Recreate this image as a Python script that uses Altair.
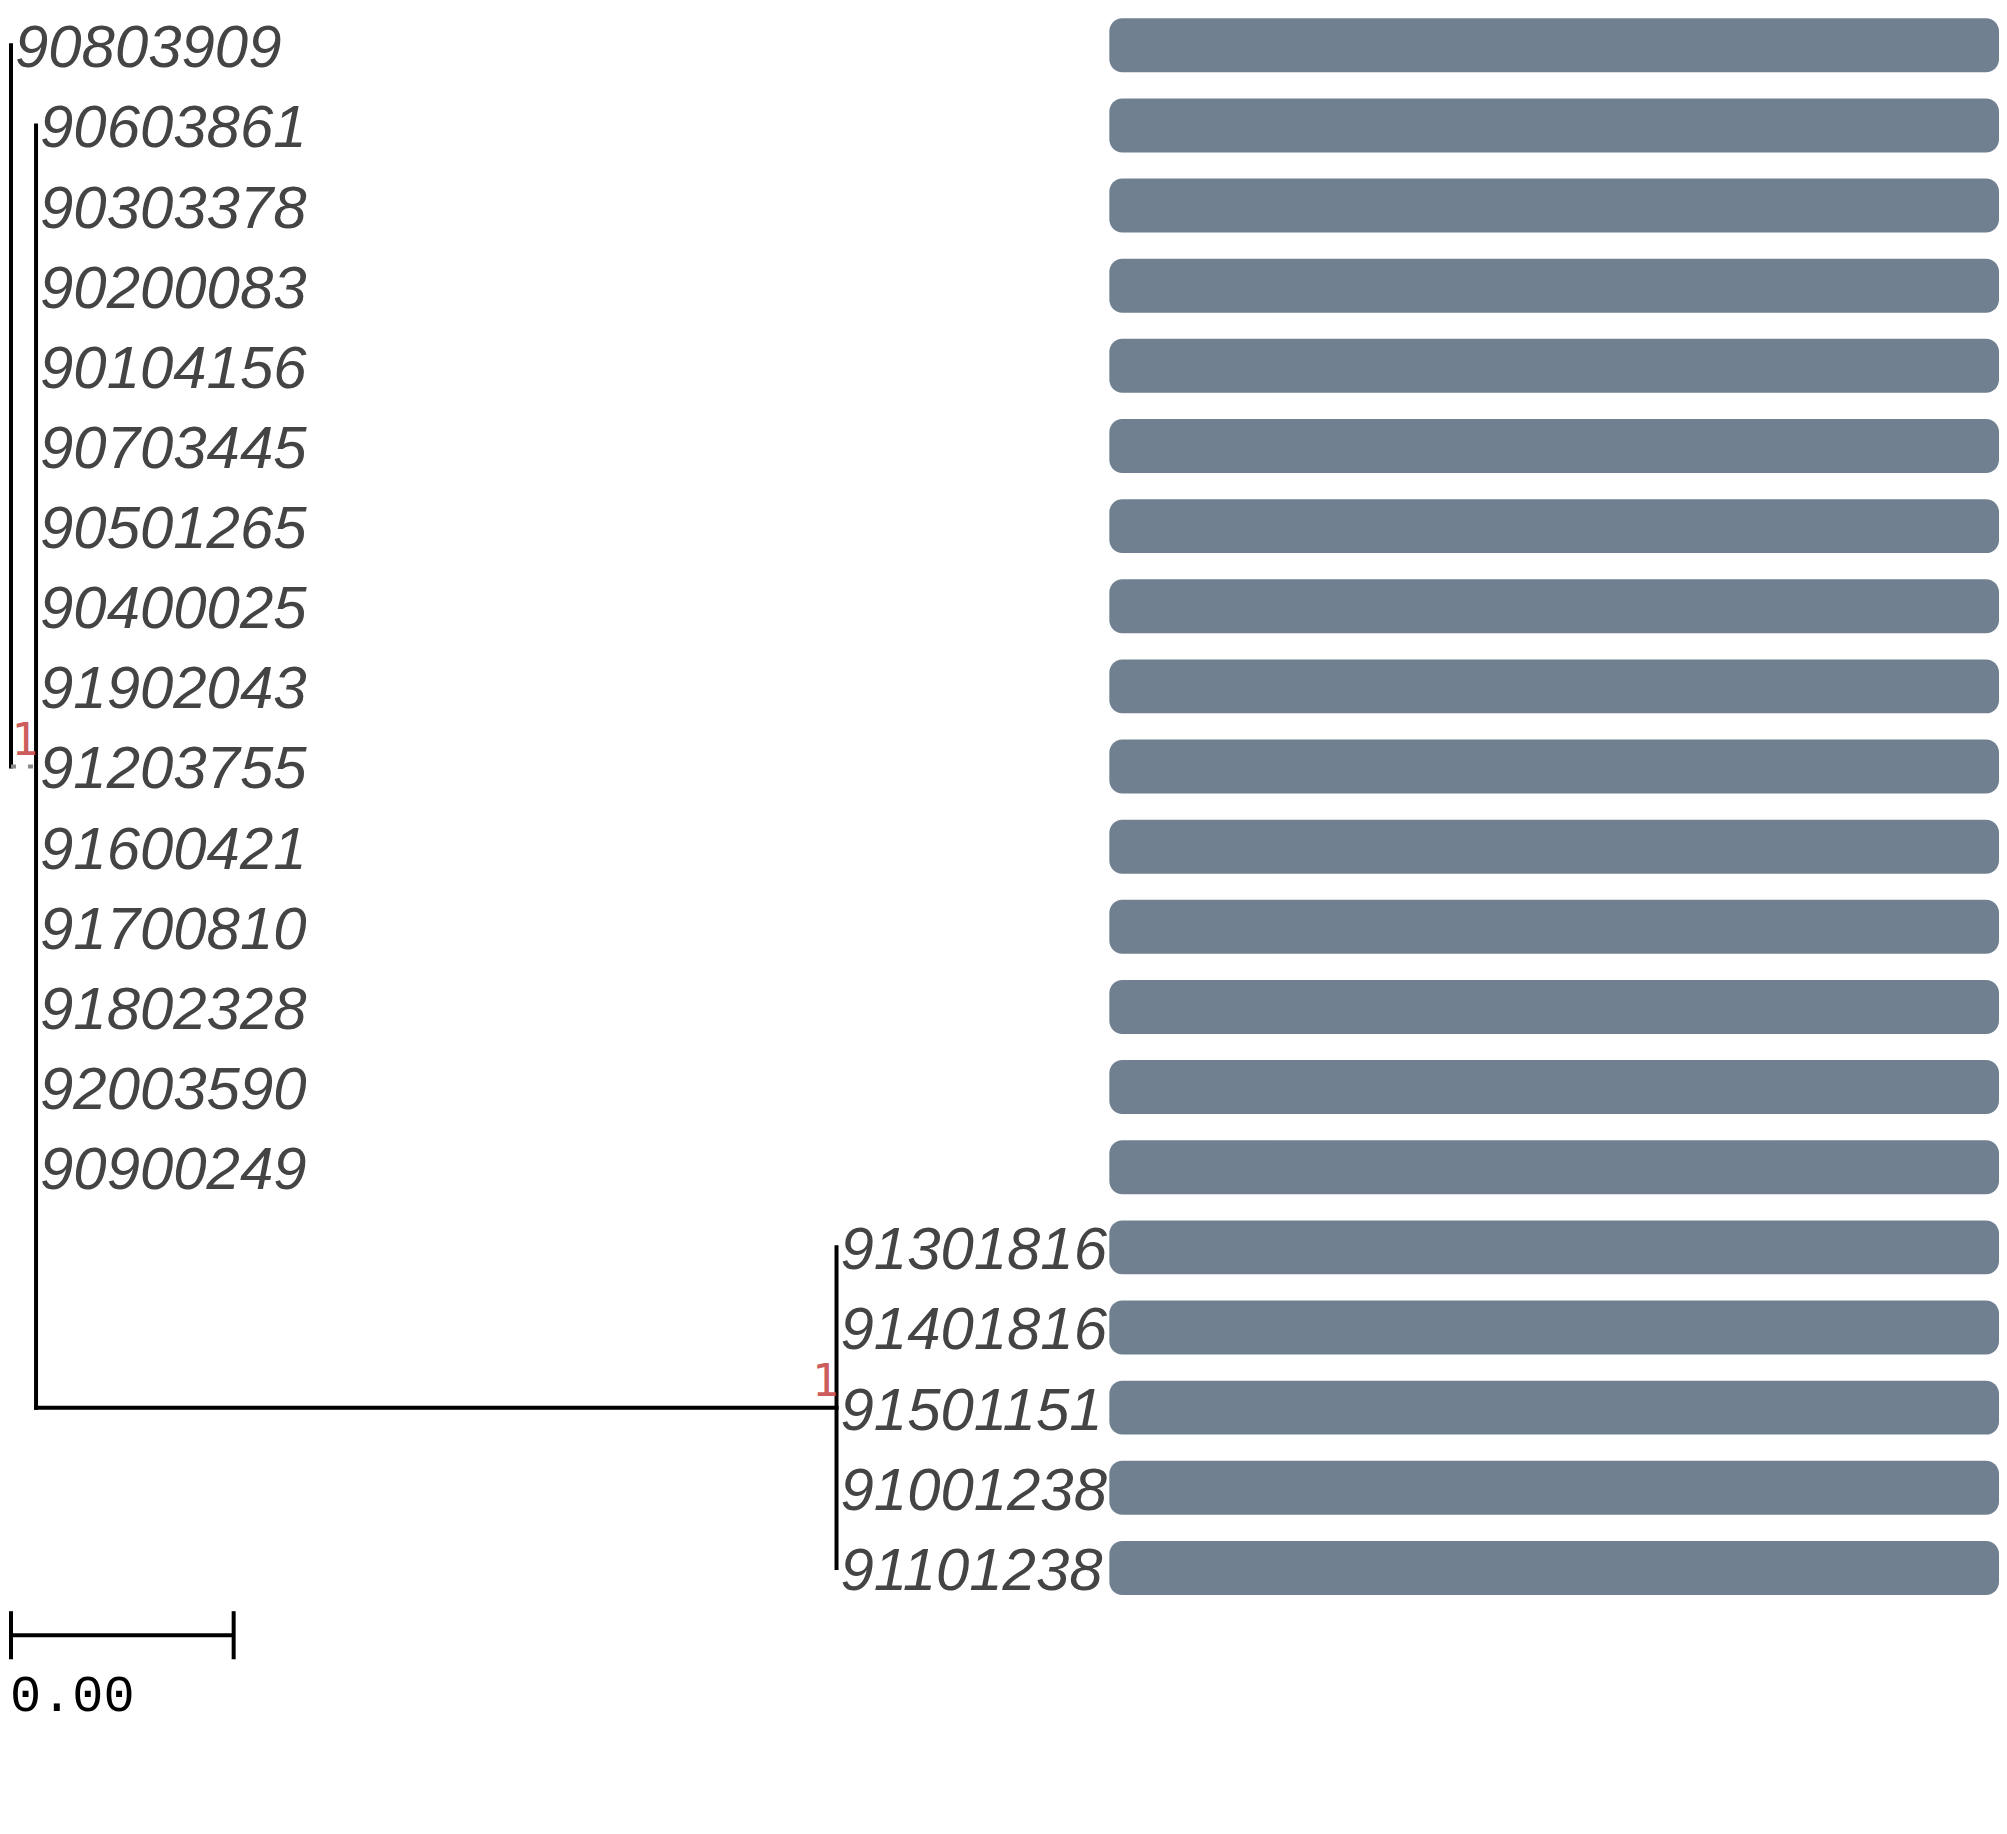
import altair as alt
import pandas as pd

# tips, top to bottom
tip_labels = ["90803909", "90603861", "90303378", "90200083", "90104156",
              "90703445", "90501265", "90400025", "91902043", "91203755",
              "91600421", "91700810", "91802328", "92003590", "90900249",
              "91301816", "91401816", "91501151", "91001238", "91101238"]
tip_rows = list(range(1, 21))
tip_parent = ["root"] + ["inner"] * 14 + ["clade"] * 5
tip_branch = [0.0] * 20

# internal nodes
node_names = ["root", "inner", "clade"]
node_x = [0.0, 0.00045, 0.01483]
node_row = [5.5, 10.0, 18.0]
node_parent = ["", "root", "inner"]
node_support = ["", "1", "1"]

# right-hand bar panel
bar_values = [1.0] * 20

# tree scale
scale_width = 0.004
scale_label = "0.00"
scale_row = 20.84

ROW_PX = 80.26
TREE_W, BAR_W, H = 1100, 891, 1760
PX_PER_UNIT = 55750
y0 = 1 - 36 / ROW_PX
yscale = alt.Scale(domain=[y0, y0 + H / ROW_PX], reverse=True, nice=False, zero=False)
xscale = alt.Scale(domain=[0, TREE_W / PX_PER_UNIT], nice=False, zero=False)

nx = dict(zip(node_names, node_x))
ny = dict(zip(node_names, node_row))
tip_x = [nx[p] + b for p, b in zip(tip_parent, tip_branch)]

# build branch segments
segs = []
for n in node_names:
    kids = [r for r, p in zip(tip_rows, tip_parent) if p == n]
    kids += [ny[m] for m, p in zip(node_names, node_parent) if p == n]
    segs.append(dict(x=nx[n], x2=nx[n], y=min(kids), y2=max(kids), kind="solid"))
for m, p in zip(node_names, node_parent):
    if p:
        segs.append(dict(x=nx[p], x2=nx[m], y=ny[m], y2=ny[m],
                         kind="dashed" if p == "root" else "solid"))
for r, p, x in zip(tip_rows, tip_parent, tip_x):
    if x > nx[p]:
        segs.append(dict(x=nx[p], x2=x, y=r, y2=r, kind="solid"))
seg_df = pd.DataFrame(segs)

tips_df = pd.DataFrame({"label": tip_labels, "y": tip_rows, "x": tip_x})
support_df = pd.DataFrame({"x": node_x, "y": node_row, "s": node_support})
support_df = support_df[support_df.s != ""]

X = alt.X("x:Q", scale=xscale, axis=None)
Y = alt.Y("y:Q", scale=yscale, axis=None)

solid = alt.Chart(seg_df[seg_df.kind == "solid"]).mark_rule(
    strokeWidth=4, color="black", strokeCap="square"
).encode(x=X, x2="x2:Q", y=Y, y2="y2:Q")

dashed = alt.Chart(seg_df[seg_df.kind == "dashed"]).mark_rule(
    strokeWidth=4, color="#888888", strokeDash=[5, 12]
).encode(x=X, x2="x2:Q", y=Y, y2="y2:Q")

labels = alt.Chart(tips_df).mark_text(
    align="left", baseline="alphabetic", dx=4, dy=22,
    font="Liberation Sans", fontStyle="italic", fontSize=60, color="#444444"
).encode(x=X, y=Y, text="label:N")

support = alt.Chart(support_df).mark_text(
    align="right", baseline="alphabetic", dx=2, dy=-12,
    font="DejaVu Sans Mono", fontSize=44, color="#CD5C5C"
).encode(x=X, y=Y, text="s:N")

sb = pd.DataFrame({"x": [0.0], "x2": [scale_width], "y": [scale_row],
                   "lab": [scale_label]})
sb_ticks = pd.DataFrame({"x": [0.0, scale_width],
                         "y": [scale_row - 0.3] * 2, "y2": [scale_row + 0.3] * 2})
sb_line = alt.Chart(sb).mark_rule(strokeWidth=4, color="black").encode(
    x=X, x2="x2:Q", y=Y)
sb_tick = alt.Chart(sb_ticks).mark_rule(strokeWidth=4, color="black").encode(
    x=X, y=Y, y2="y2:Q")
sb_text = alt.Chart(sb).mark_text(
    align="left", baseline="alphabetic", dx=-1, dy=76,
    font="Liberation Mono", fontSize=52, color="black"
).encode(x=X, y=Y, text="lab:N")

tree = alt.layer(solid, dashed, labels, support, sb_line, sb_tick, sb_text).properties(
    width=TREE_W, height=H)

bars_df = pd.DataFrame({"label": tip_labels, "y": tip_rows, "v": bar_values})
bars = alt.Chart(bars_df).transform_calculate(
    top="datum.y - 0.3365", bot="datum.y + 0.3365", zero="0"
).mark_rect(color="#708090", cornerRadius=13).encode(
    x=alt.X("zero:Q", scale=alt.Scale(domain=[0, 1], nice=False), axis=None),
    x2="v:Q",
    y=alt.Y("top:Q", scale=yscale, axis=None),
    y2="bot:Q",
).properties(width=BAR_W, height=H)

chart = alt.hconcat(tree, bars, spacing=0, bounds="flush").properties(
    padding=0
).configure_view(stroke=None)

chart.save("out.html", embed_options={"renderer": "svg", "actions": False})
